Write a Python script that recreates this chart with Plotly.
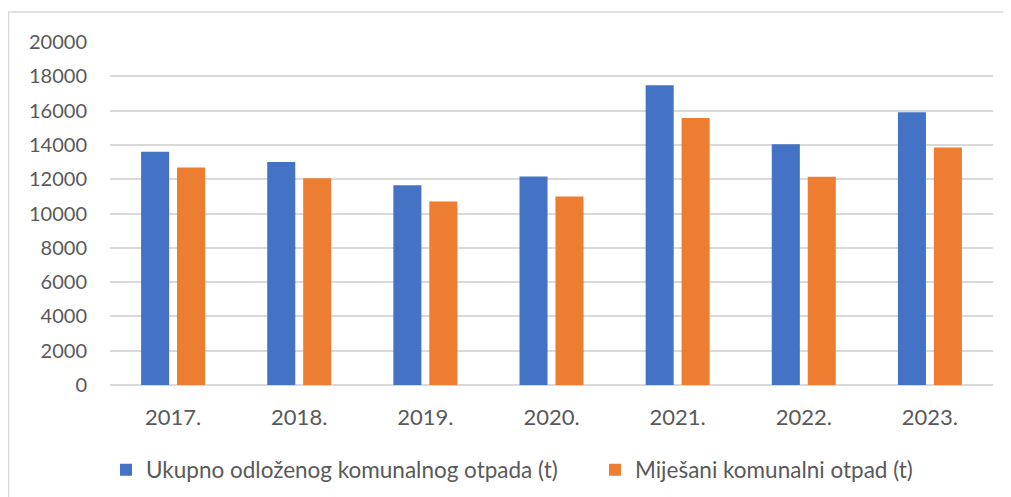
import plotly.graph_objects as go

years = ["2017.", "2018.", "2019.", "2020.", "2021.", "2022.", "2023."]
ukupno = [13600, 13000, 11640, 12160, 17480, 14040, 15900]
mijesani = [12680, 12060, 10700, 10990, 15570, 12150, 13850]
series_names = ["Ukupno odloženog komunalnog otpada (t)", "Miješani komunalni otpad (t)"]
y_ticks = [0, 2000, 4000, 6000, 8000, 10000, 12000, 14000, 16000, 18000, 20000]

FONT = "Lato"
TXT = "#595959"
W, H = 1003, 489
L, R, T, B = 102, 18, 34, 112
PW, PH = W - L - R, H - T - B
OFF = 8  # page body margin


def px_x(sx):
    return (sx - OFF - L) / PW


def px_y(sy):
    return (T + PH - (sy - OFF)) / PH


fig = go.Figure()
fig.add_trace(go.Bar(x=years, y=ukupno, name=series_names[0], legend="legend",
                     marker=dict(color="#4472C4", line=dict(width=0))))
fig.add_trace(go.Bar(x=years, y=mijesani, name=series_names[1], legend="legend2",
                     marker=dict(color="#ED7D31", line=dict(width=0))))

leg_common = dict(orientation="h", xanchor="left", yanchor="middle", y=px_y(470),
                  font=dict(family=FONT, size=22.5, color=TXT), itemwidth=30,
                  bgcolor="rgba(0,0,0,0)")

fig.update_layout(
    width=W, height=H,
    margin=dict(l=L, r=R, t=T, b=B, autoexpand=False),
    paper_bgcolor="white", plot_bgcolor="white",
    barmode="group", bargap=0.43, bargroupgap=0.22,
    font=dict(family=FONT, color=TXT, size=20),
    showlegend=True,
    legend=dict(x=px_x(106), **leg_common),
    legend2=dict(x=px_x(595), **leg_common),
    xaxis=dict(showgrid=False, showline=False, ticks="", ticklabelstandoff=17,
               tickfont=dict(size=22, color=TXT)),
    yaxis=dict(range=[0, 20000], tickvals=y_ticks, ticktext=[str(v) for v in y_ticks],
               showgrid=True, gridcolor="#d9d9d9", gridwidth=1.5,
               zeroline=True, zerolinecolor="#d9d9d9", zerolinewidth=1.5,
               showline=False, ticks="", ticklabelstandoff=22,
               tickfont=dict(size=20, color=TXT)),
)
# chart border
fig.add_shape(type="rect", xref="paper", yref="paper",
              x0=(0.5 - L) / PW, x1=(W + 20 - L) / PW,
              y0=-(H + 20 - T - PH) / PH, y1=(T + PH - 4) / PH,
              line=dict(color="#d9d9d9", width=1.5), fillcolor="rgba(0,0,0,0)", layer="below")

fig.write_html("out.html")
